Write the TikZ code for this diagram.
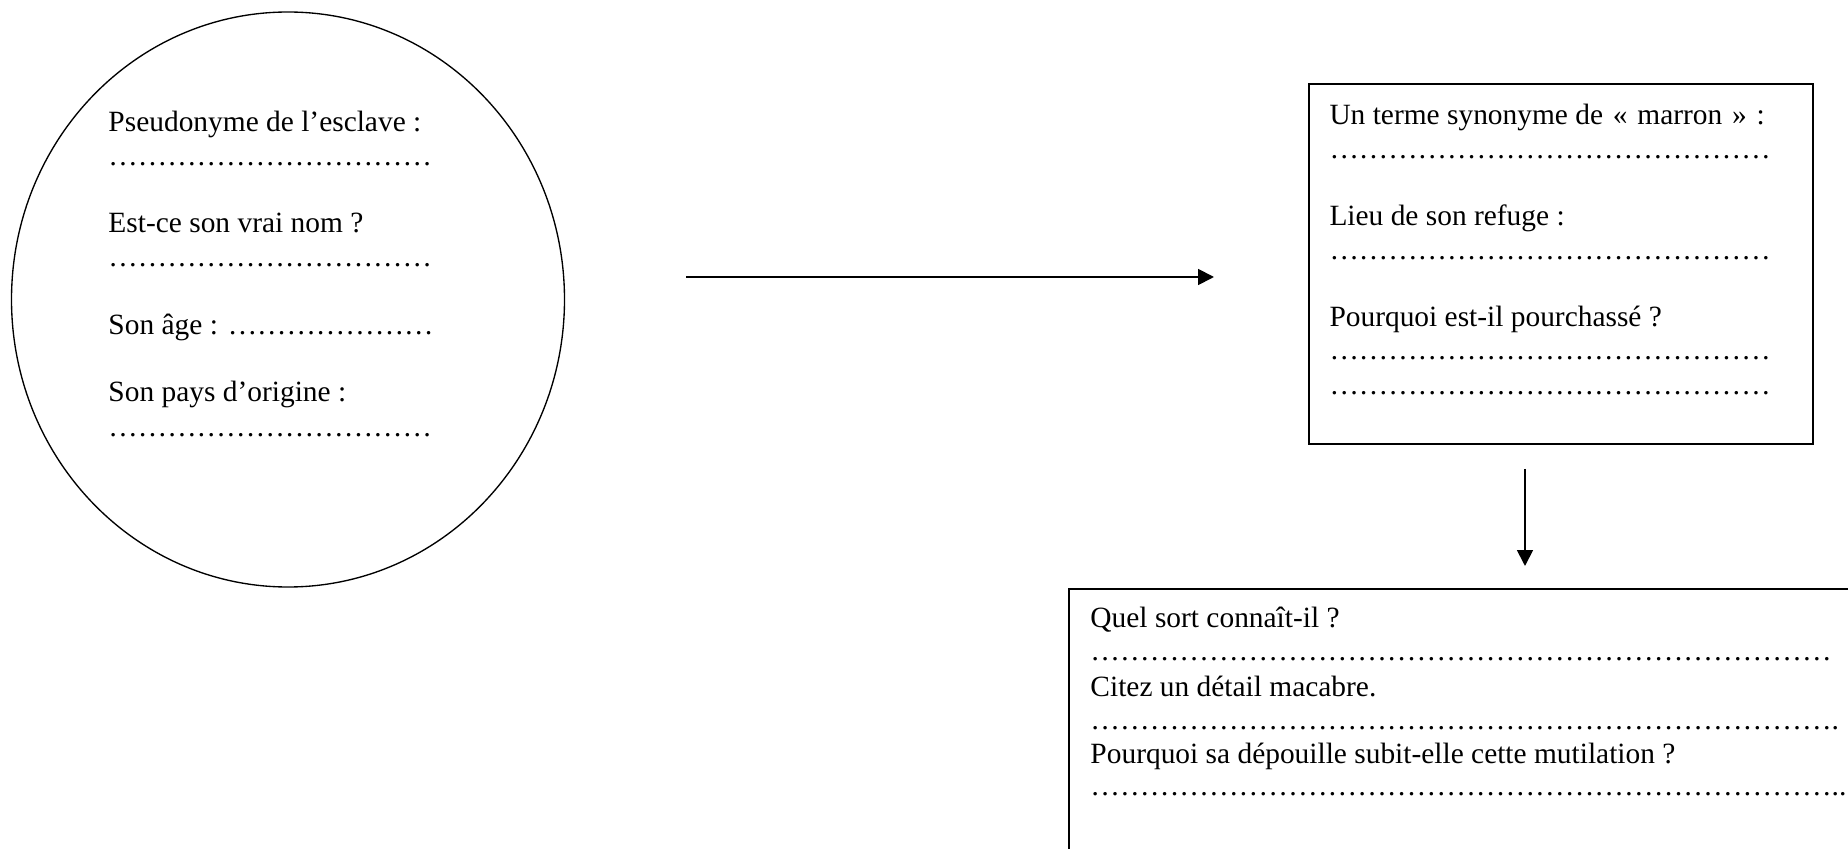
\documentclass[tikz,border=0pt]{standalone}
\usepackage{fontspec}
\setmainfont{Liberation Serif}
\usetikzlibrary{arrows.meta,shapes.geometric}
\ExplSyntaxOn
\cs_new:Npn \mydots #1 {\prg_replicate:nn{#1}{…}}
\ExplSyntaxOff
\begin{document}
\begin{tikzpicture}[x=0.408pt,y=-0.408pt,
  txt/.style={anchor=base west,inner sep=0pt,font=\fontsize{12}{14}\selectfont},
  frame/.style={draw,line width=0.8pt,inner sep=0pt,outer sep=0pt},
  conn/.style={line width=0.75pt,-{Triangle[length=6.5pt,width=6.5pt]}}]
\useasboundingbox (0,0) rectangle (1848,849);
\begin{scope}
\clip (0,0) rectangle (1848,849);
\node[frame,ellipse,line width=0.55pt,minimum width={553*0.408pt},minimum height={575*0.408pt}] (circ) at (288,299.5) {};
\node[frame,rectangle,minimum width={504*0.408pt},minimum height={360*0.408pt}] (box1) at (1561,264) {};
\node[frame,rectangle,minimum width={831*0.408pt},minimum height={311*0.408pt}] (box2) at (1484.5,744.5) {};
\end{scope}
% circle texts
\node[txt] (c1) at (108,132) {Pseudonyme de l’esclave :};
\node[txt] (c2) at (108,166) {\mydots{11}};
\node[txt] (c3) at (108,233) {Est-ce son vrai nom ?};
\node[txt] (c4) at (108,267) {\mydots{11}};
\node[txt] (c5) at (108,335) {Son âge : \mydots{7}};
\node[txt] (c6) at (108,402) {Son pays d’origine :};
\node[txt] (c7) at (108,437) {\mydots{11}};
% box 1 texts
\node[txt] (b11) at (1329,124.5) {Un terme synonyme de\hspace{1pt} «\hspace{1pt}~marron\hspace{1pt}~»\hspace{1pt} :};
\node[txt] (b12) at (1329,158.5) {\mydots{15}};
\node[txt] (b13) at (1329,225.5) {Lieu de son refuge :};
\node[txt] (b14) at (1329,259.5) {\mydots{15}};
\node[txt] (b15) at (1329,326.5) {Pourquoi est-il pourchassé ?};
\node[txt] (b16) at (1329,359.5) {\mydots{15}};
\node[txt] (b17) at (1329,394.5) {\mydots{15}};
% box 2 texts
\node[txt] (b21) at (1090,628) {Quel sort connaît-il ?};
\node[txt] (b22) at (1090,661) {\scalebox{1.008}[1]{\mydots{25}}};
\node[txt] (b23) at (1090,696) {Citez un détail macabre.};
\node[txt] (b24) at (1090,729) {\scalebox{1.008}[1]{\mydots{25}.}};
\node[txt] (b25) at (1090,763) {Pourquoi sa dépouille subit-elle cette mutilation ?};
\node[txt] (b26) at (1090,795) {\scalebox{1.008}[1]{\mydots{25}..}};
% arrows
\coordinate (a1s) at (686,277);
\coordinate (a1e) at (1214,277);
\coordinate (a2s) at (1525,469);
\coordinate (a2e) at (1525,566);
\draw[conn] (a1s) -- (a1e);
\draw[conn] (a2s) -- (a2e);
\end{tikzpicture}
\end{document}
